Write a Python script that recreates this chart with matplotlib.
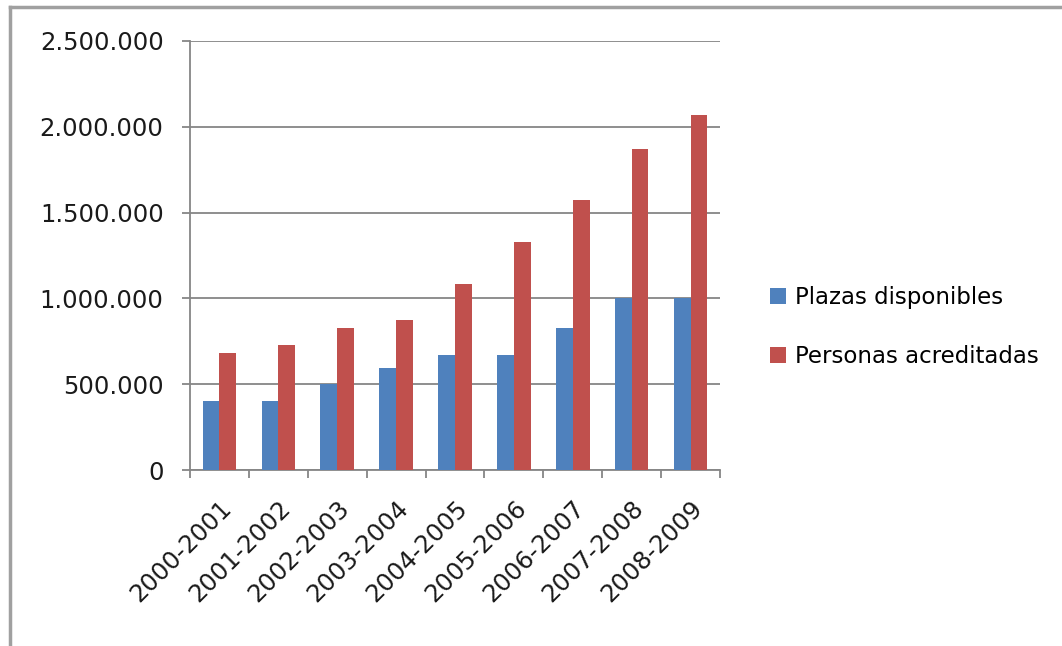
import matplotlib
matplotlib.use('Agg')
import matplotlib.pyplot as plt
import numpy as np
from matplotlib.lines import Line2D
from matplotlib.ticker import FuncFormatter

cursos = ['2000-2001', '2001-2002', '2002-2003', '2003-2004', '2004-2005',
          '2005-2006', '2006-2007', '2007-2008', '2008-2009']
plazas = [400000, 400000, 500000, 595000, 670000, 670000, 825000, 1000000, 1000000]
acreditadas = [680000, 730000, 825000, 875000, 1085000, 1330000, 1575000, 1870000, 2070000]

azul = '#4F81BD'
rojo = '#C0504D'
gris = '#868686'

fig = plt.figure(figsize=(10.62, 6.46), dpi=100)
ax = fig.add_axes([190 / 1062, 1 - 470 / 646, 530 / 1062, 429 / 646])

x = np.arange(len(cursos))
w = 1 / 3.5
ax.bar(x - w / 2, plazas, w, color=azul, label='Plazas disponibles', zorder=3)
ax.bar(x + w / 2, acreditadas, w, color=rojo, label='Personas acreditadas', zorder=3)

ax.set_xlim(-0.5, len(cursos) - 0.5)
ax.set_ylim(0, 2500000)
ax.set_yticks(np.arange(0, 2500001, 500000))
ax.yaxis.set_major_formatter(FuncFormatter(lambda v, p: '{:,.0f}'.format(v).replace(',', '.')))
ax.yaxis.grid(True, color=gris, linewidth=1.3, zorder=0)

# ticks de categoria en los limites, etiquetas en el centro
ax.set_xticks(np.arange(-0.5, len(cursos), 1))
ax.set_xticklabels([])
ax.set_xticks(x, minor=True)
ax.set_xticklabels(cursos, minor=True, rotation=45, ha='right', rotation_mode='anchor',
                   fontsize=17.5, color='#1a1a1a')
ax.tick_params(axis='x', which='minor', length=0, pad=19)
ax.tick_params(axis='x', which='major', length=6, color=gris, width=1.3, direction='out')
ax.tick_params(axis='y', length=6, color=gris, width=1.3, labelsize=17.5,
               labelcolor='#1a1a1a', pad=13)

for s in ['top', 'right']:
    ax.spines[s].set_visible(False)
for s in ['left', 'bottom']:
    ax.spines[s].set_color(gris)
    ax.spines[s].set_linewidth(1.3)

ax.legend(loc='center left', bbox_to_anchor=(1.055, 0.333), frameon=False,
          prop={'family': 'DejaVu Sans', 'size': 16.5}, handlelength=0.7, handleheight=0.7,
          labelspacing=1.6, handletextpad=0.4)

# marco exterior
fig.add_artist(Line2D([10 / 1062, 10 / 1062], [0, 1 - 7 / 646], color='#A0A0A0', lw=2.5))
fig.add_artist(Line2D([10 / 1062, 1], [1 - 7 / 646, 1 - 7 / 646], color='#A0A0A0', lw=2.5))

fig.savefig('out.png', dpi=100)
